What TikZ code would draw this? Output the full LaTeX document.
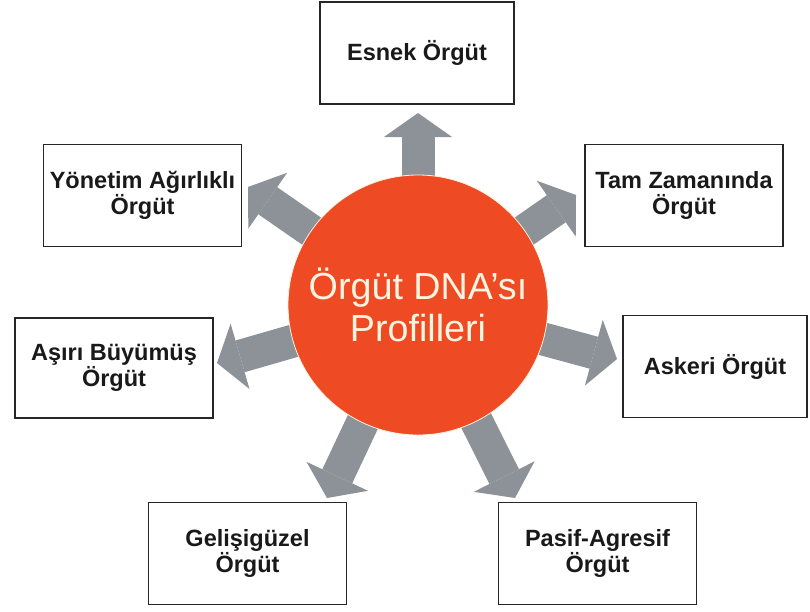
\documentclass[tikz,border=0pt]{standalone}
\usepackage{fontspec}
\setmainfont{Liberation Sans}
\usetikzlibrary{arrows.meta,backgrounds}
\definecolor{hubred}{HTML}{EE4A24}
\definecolor{spokegray}{HTML}{8C9297}
\definecolor{hubtext}{HTML}{FFF4E0}
\begin{document}
\begin{tikzpicture}[x=1pt,y=-1pt,
  profile/.style={draw=black!85, line width=1.4pt, fill=white,
    minimum width=198pt, minimum height=102pt, inner sep=0pt,
    align=center, font=\fontsize{23.5}{25.5}\selectfont\bfseries,
    text=black!90},
  spoke/.style={draw=spokegray, line width=33pt,
    -{Triangle[width=68pt,length=24pt,line width=0pt]}},
  hub/.style={circle, fill=hubred, draw=hubtext, line width=0.8pt,
    minimum size=260pt, inner sep=0pt, align=center, text=hubtext,
    font=\fontsize{37.7}{42}\selectfont}]

\useasboundingbox (0,0) rectangle (810,611);

% central profile circle
\node[hub] (hub) at (418,305) {Örgüt DNA’sı\\Profilleri};

% profile boxes
\node[profile, minimum width=194pt] (esnek) at (417,53) {Esnek Örgüt};
\node[profile] (yonetim) at (142.5,195.5) {Yönetim Ağırlıklı\\Örgüt};
\node[profile] (tam) at (684,195.5) {Tam Zamanında\\Örgüt};
\node[profile, minimum height=100pt] (asiri) at (114,368) {Aşırı Büyümüş\\Örgüt};
\node[profile, minimum width=184pt] (askeri) at (715,366.5) {Askeri Örgüt};
\node[profile] (gelisiguzel) at (247.5,553.5) {Gelişigüzel\\Örgüt};
\node[profile] (pasif) at (597.5,553.5) {Pasif-Agresif\\Örgüt};

% arrow tips
\coordinate (t-esnek) at (418,113);
\coordinate (t-tam) at (576,195);
\coordinate (t-askeri) at (617,359);
\coordinate (t-pasif) at (515,498);
\coordinate (t-gelisiguzel) at (327,498);
\coordinate (t-asiri) at (217,363);
\coordinate (t-yonetim) at (248,187);

% white canvas and block arrows radiating from behind the circle
\begin{pgfonlayer}{background}
  \fill[white] (0,0) rectangle (810,611);
  \foreach \t in {esnek,tam,askeri,pasif,gelisiguzel,asiri,yonetim}
    \draw[spoke] (hub.center) -- (t-\t);
\end{pgfonlayer}
\end{tikzpicture}
\end{document}
